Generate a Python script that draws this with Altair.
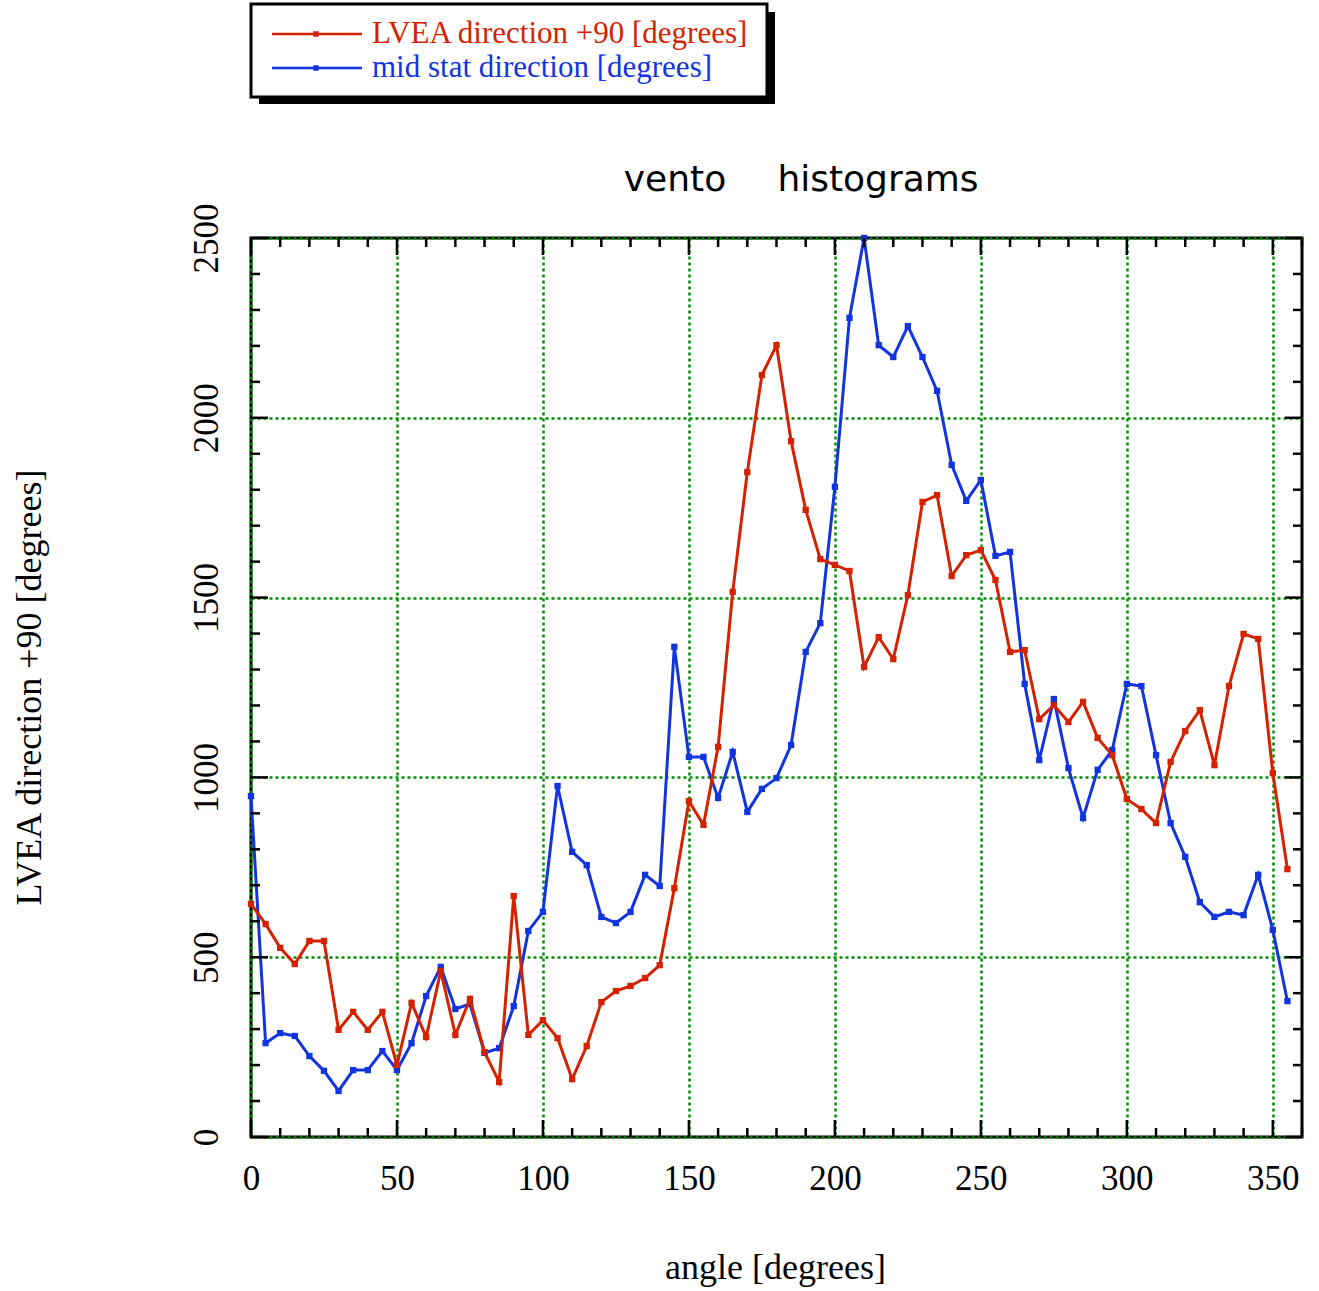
import altair as alt
import pandas as pd

# Wind direction histograms: counts per 5-degree bin
angles = [0, 5, 10, 15, 20, 25, 30, 35, 40, 45, 50, 55, 60, 65, 70, 75, 80, 85, 90, 95,
          100, 105, 110, 115, 120, 125, 130, 135, 140, 145, 150, 155, 160, 165, 170, 175,
          180, 185, 190, 195, 200, 205, 210, 215, 220, 225, 230, 235, 240, 245, 250, 255,
          260, 265, 270, 275, 280, 285, 290, 295, 300, 305, 310, 315, 320, 325, 330, 335,
          340, 345, 350, 355]

lvea_counts = [648, 592, 526, 481, 545, 545, 298, 348, 298, 348,
               200, 373, 278, 462, 284, 384, 236, 153, 670, 284,
               325, 275, 161, 253, 375, 406, 420, 442, 478, 692,
               934, 868, 1085, 1516, 1849, 2119, 2202, 1935, 1744, 1607,
               1591, 1574, 1307, 1390, 1329, 1507, 1766, 1785, 1560, 1618,
               1632, 1549, 1349, 1354, 1162, 1201, 1154, 1210, 1110, 1062,
               940, 912, 873, 1043, 1129, 1187, 1034, 1254, 1399, 1385,
               1012, 745]

mid_counts = [948, 261, 289, 281, 225, 184, 128, 186, 186, 239,
              186, 261, 392, 473, 356, 370, 234, 247, 364, 573,
              626, 976, 793, 756, 612, 595, 626, 729, 698, 1363,
              1057, 1057, 943, 1071, 904, 968, 998, 1090, 1349, 1429,
              1808, 2278, 2500, 2202, 2169, 2255, 2169, 2075, 1869, 1769,
              1827, 1616, 1627, 1260, 1048, 1218, 1026, 887, 1021, 1076,
              1260, 1254, 1062, 873, 779, 653, 612, 626, 617, 729,
              576, 378]

series_names = ["LVEA direction +90 [degrees]", "mid stat direction [degrees]"]
series_colors = ["#d42200", "#1234de"]

x_major = [0, 50, 100, 150, 200, 250, 300, 350]
x_minor = [v for v in range(0, 361, 10) if v % 50 != 0]
y_major = [0, 500, 1000, 1500, 2000, 2500]
y_minor = [v for v in range(0, 2501, 100) if v % 500 != 0]

W, H = 1051, 899
GRID = "#068c06"
SERIF = "Liberation Serif"

xs = alt.Scale(domain=[0, 360], nice=False, zero=False)
ys = alt.Scale(domain=[0, 2500], nice=False, zero=False)

lvea_df = pd.DataFrame({"angle": angles, "count": lvea_counts})
mid_df = pd.DataFrame({"angle": angles, "count": mid_counts})
one = pd.DataFrame({"k": [0]})

x_axis = alt.Axis(
    values=x_major, format="d", grid=True, gridColor=GRID, gridDash=[3, 3], gridWidth=2.5,
    ticks=False, domain=False, labelFlush=False, labelOverlap=False, labelBound=False,
    labelFont=SERIF, labelFontSize=35, labelColor="black", labelPadding=52,
    labelBaseline="alphabetic", labelAlign="center",
    title="angle [degrees]", titleFont=SERIF, titleFontSize=36, titleFontWeight="normal",
    titleColor="black", titleX=524, titleY=141, titleAlign="center", titleBaseline="alphabetic",
)
y_axis = alt.Axis(
    values=y_major, format="d", grid=True, gridColor=GRID, gridDash=[3, 3], gridWidth=2.5,
    ticks=False, domain=False, labelFlush=False, labelOverlap=False, labelBound=False,
    labelFont=SERIF, labelFontSize=35, labelColor="black", labelPadding=34,
    labelAngle=270, labelAlign="center", labelBaseline="alphabetic",
    title="LVEA direction +90 [degrees]", titleFont=SERIF, titleFontSize=36,
    titleFontWeight="normal", titleColor="black", titleAngle=270,
    titleX=-211, titleY=449, titleAlign="center", titleBaseline="alphabetic",
)


def series_layer(df, color):
    return alt.Chart(df).mark_line(
        color=color, strokeWidth=3,
        point=alt.OverlayMarkDef(shape="square", size=40, filled=True, color=color, opacity=1),
    ).encode(
        x=alt.X("angle:Q", scale=xs, axis=x_axis),
        y=alt.Y("count:Q", scale=ys, axis=y_axis),
    )


def tick_layer(vals, side, length):
    base = alt.Chart(pd.DataFrame({"v": vals})).mark_rule(color="black", strokeWidth=2.5)
    if side in ("bottom", "top"):
        y0 = H if side == "bottom" else 0
        y1 = H - length if side == "bottom" else length
        return base.encode(x=alt.X("v:Q", scale=xs, axis=x_axis),
                           y=alt.value(y0), y2=alt.value(y1))
    x0 = 0 if side == "left" else W
    x1 = length if side == "left" else W - length
    return base.encode(y=alt.Y("v:Q", scale=ys, axis=y_axis),
                       x=alt.value(x0), x2=alt.value(x1))


ticks = []
for side in ("bottom", "top"):
    ticks.append(tick_layer(x_major, side, 17))
    ticks.append(tick_layer(x_minor, side, 9))
for side in ("left", "right"):
    ticks.append(tick_layer(y_major, side, 17))
    ticks.append(tick_layer(y_minor, side, 9))

# Title above the plot
title_words = [
    alt.Chart(one).mark_text(text="vento", font="DejaVu Sans", fontSize=36, color="black",
                             align="center", baseline="alphabetic")
    .encode(x=alt.value(424), y=alt.value(-47)),
    alt.Chart(one).mark_text(text="histograms", font="DejaVu Sans", fontSize=36, color="black",
                             align="center", baseline="alphabetic")
    .encode(x=alt.value(627), y=alt.value(-47)),
]

# Boxed legend with drop shadow
legend = [
    alt.Chart(one).mark_rect(color="black")
    .encode(x=alt.value(8), x2=alt.value(524), y=alt.value(-226), y2=alt.value(-134)),
    alt.Chart(one).mark_rect(fill="white", stroke="black", strokeWidth=3)
    .encode(x=alt.value(0), x2=alt.value(516), y=alt.value(-234), y2=alt.value(-141)),
]
for i, (name, col) in enumerate(zip(series_names, series_colors)):
    ly = -204 + 34 * i
    legend.append(alt.Chart(one).mark_rule(color=col, strokeWidth=2.5)
                  .encode(x=alt.value(21), x2=alt.value(111), y=alt.value(ly)))
    legend.append(alt.Chart(one).mark_point(shape="square", filled=True, color=col, size=30, opacity=1)
                  .encode(x=alt.value(65), y=alt.value(ly)))
    legend.append(alt.Chart(one).mark_text(text=name, font=SERIF, fontSize=31, color=col,
                                           align="left", baseline="alphabetic")
                  .encode(x=alt.value(121), y=alt.value(ly + 9)))

chart = alt.layer(
    series_layer(mid_df, series_colors[1]),
    series_layer(lvea_df, series_colors[0]),
    *ticks,
    *title_words,
    *legend,
).properties(
    width=W, height=H,
    autosize=alt.AutoSizeParams(type="none"),
    padding={"left": 251, "top": 238, "right": 17, "bottom": 154},
    background="white",
).configure_view(stroke="black", strokeWidth=3)

chart.save("out.html", embed_options={"renderer": "svg", "actions": False})
